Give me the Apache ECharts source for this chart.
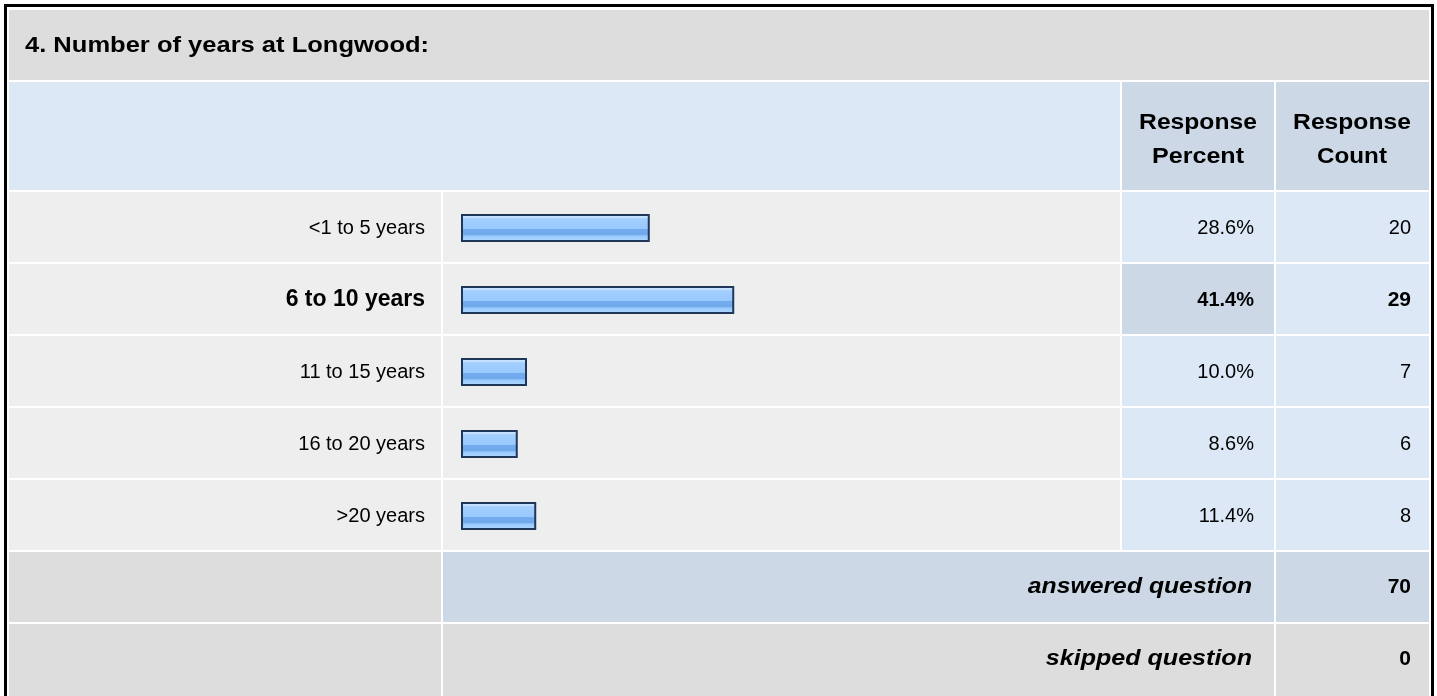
<!DOCTYPE html>
<html>
<head>
<meta charset="utf-8">
<title>Number of years at Longwood</title>
<script src="https://cdn.jsdelivr.net/npm/echarts@6/dist/echarts.min.js"></script>
<style>
  html, body { margin: 0; padding: 0; background: #fff; }
  #main { width: 1437px; height: 696px; }
</style>
</head>
<body>
<div id="main"></div>
<script>
// survey data
var title = '4. Number of years at Longwood:'
var categories = ['<1 to 5 years', '6 to 10 years', '11 to 15 years', '16 to 20 years', '>20 years']
var percents = [28.6, 41.4, 10.0, 8.6, 11.4]
var counts = [20, 29, 7, 6, 8]
var answered = 70
var skipped = 0

var FONT = 'Liberation Sans, Arial, sans-serif'
var GRAY = '#dddddd', ROW = '#eeeeee', BLUE = '#dce8f5', BLUE2 = '#ccd8e6'

// the row with the most answers is shown in bold
var top_i = counts.indexOf(Math.max.apply(null, counts))

var rowY = function (i) { return 192 + 72 * i }

var graphics = []
function cell (x, y, w, h, color) {
  graphics.push({ type: 'rect', z: -10, shape: { x: x, y: y, width: w, height: h }, style: { fill: color } })
}
// bold text of the original is rendered wide, so it gets a horizontal stretch
function txt (x, y, s, align, bold, italic, size, sx) {
  graphics.push({
    type: 'text', z: 5, x: x, y: y, scaleX: sx || 1,
    style: {
      text: s, fill: '#000', align: align, verticalAlign: 'middle',
      font: (italic ? 'italic ' : '') + (bold ? 'bold ' : '') + (size || 20) + 'px ' + FONT
    }
  })
}

// header rows
cell(9, 10, 1420, 70, GRAY)
cell(9, 82, 1111, 108, BLUE)
cell(1122, 82, 152, 108, BLUE2)
cell(1276, 82, 153, 108, BLUE2)
txt(25, 46, title, 'left', true, false, 22, 1.16)
txt(1198, 123, 'Response', 'center', true, false, 22, 1.12)
txt(1198, 157, 'Percent', 'center', true, false, 22, 1.14)
txt(1352, 123, 'Response', 'center', true, false, 22, 1.12)
txt(1352, 157, 'Count', 'center', true, false, 22, 1.1)

// answer rows
for (var i = 0; i < categories.length; i++) {
  var y = rowY(i)
  cell(9, y, 432, 70, ROW)
  cell(443, y, 677, 70, ROW)
  cell(1122, y, 152, 70, i === top_i ? BLUE2 : BLUE)
  cell(1276, y, 153, 70, BLUE)
}

// totals
var ya = rowY(5), ys = rowY(6)
cell(9, ya, 432, 70, GRAY)
cell(443, ya, 831, 70, BLUE2)
cell(1276, ya, 153, 70, BLUE2)
cell(9, ys, 432, 72, GRAY)
cell(443, ys, 831, 72, GRAY)
cell(1276, ys, 153, 72, GRAY)
txt(1252, ya + 35, 'answered question', 'right', true, true, 22, 1.125)
txt(1411, ya + 35, String(answered), 'right', true, false, 21)
txt(1252, ys + 35, 'skipped question', 'right', true, true, 22, 1.14)
txt(1411, ys + 35, String(skipped), 'right', true, false, 21)

// outer frame
graphics.push({
  type: 'rect', z: 6,
  shape: { x: 5.5, y: 5.5, width: 1427, height: 720 },
  style: { fill: 'none', stroke: '#000', lineWidth: 3 }
})

function catData (arr, fmt, boldSize) {
  return arr.map(function (v, i) {
    var bold = i === top_i
    return { value: fmt(v), textStyle: { fontWeight: bold ? 'bold' : 'normal', fontSize: bold ? boldSize : 20 } }
  })
}

var hiddenAxis = { axisLine: { show: false }, axisTick: { show: false }, splitLine: { show: false } }
var gridLeft = 461

var option = {
  animation: false,
  graphic: graphics,
  grid: { left: gridLeft, top: 192, width: 660, height: 360 },
  xAxis: Object.assign({ type: 'value', min: 0, max: 100, axisLabel: { show: false } }, hiddenAxis),
  yAxis: [
    Object.assign({
      type: 'category', inverse: true,
      data: catData(categories, function (v) { return v }, 23),
      axisLabel: { margin: 36, color: '#000', fontFamily: FONT }
    }, hiddenAxis),
    // percent column, labels end at x = 1254
    Object.assign({
      type: 'category', inverse: true, position: 'left', offset: gridLeft - 1254,
      data: catData(percents, function (v) { return v.toFixed(1) + '%' }, 20),
      axisLabel: { margin: 0, color: '#000', fontFamily: FONT }
    }, hiddenAxis),
    // count column, labels end at x = 1411
    Object.assign({
      type: 'category', inverse: true, position: 'left', offset: gridLeft - 1411,
      data: catData(counts, function (v) { return String(v) }, 21),
      axisLabel: { margin: 0, color: '#000', fontFamily: FONT }
    }, hiddenAxis)
  ],
  series: [{
    type: 'bar',
    data: percents,
    barWidth: 28,
    itemStyle: {
      borderColor: '#1f3758',
      borderWidth: 2,
      color: new echarts.graphic.LinearGradient(0, 0, 0, 1, [
        { offset: 0, color: '#d0e7ff' },
        { offset: 0.14, color: '#c2dfff' },
        { offset: 0.15, color: '#a5d0ff' },
        { offset: 0.52, color: '#99c8fd' },
        { offset: 0.53, color: '#74abee' },
        { offset: 0.76, color: '#70a8ec' },
        { offset: 0.77, color: '#95c6fd' },
        { offset: 1, color: '#b6dbff' }
      ])
    }
  }]
}

var myChart = echarts.init(document.getElementById('main'))
myChart.setOption(option)
</script>
</body>
</html>
